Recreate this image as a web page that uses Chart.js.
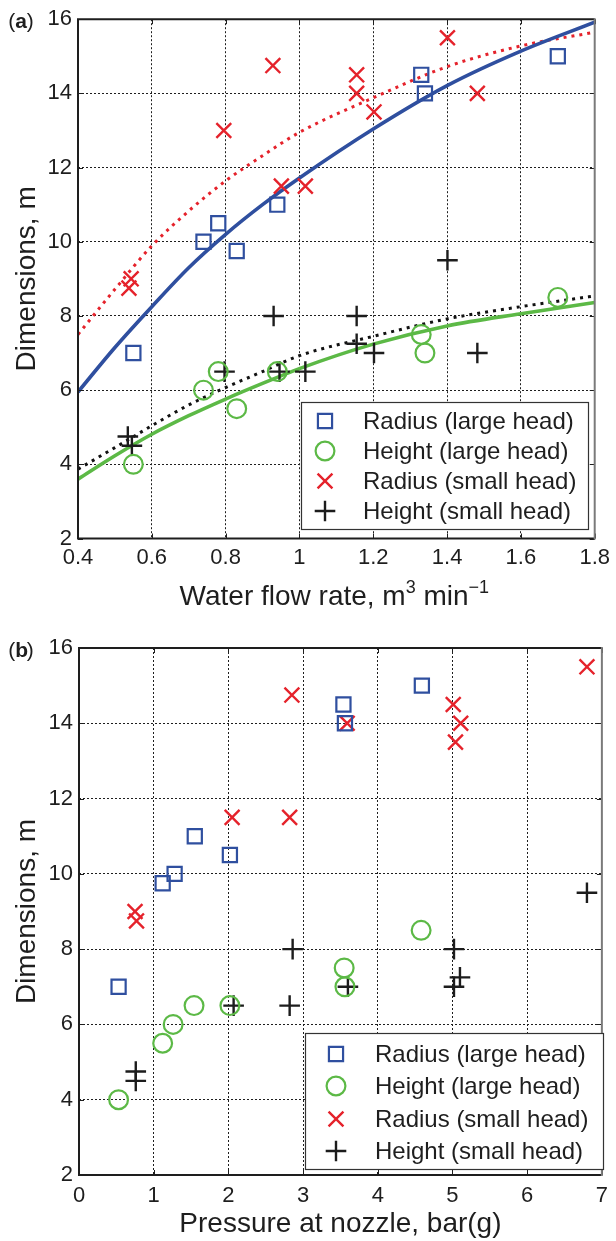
<!DOCTYPE html>
<html>
<head>
<meta charset="utf-8">
<script src="https://cdn.jsdelivr.net/npm/chart.js@4.4.1/dist/chart.umd.min.js"></script>
<style>
  html, body { margin: 0; padding: 0; background: #fff; }
  #wrap { position: relative; width: 616px; height: 1241px; }
  canvas { position: absolute; left: 0; }
  #chart-a { top: 0; }
  #chart-b { top: 620px; }
</style>
</head>
<body>
<div id="wrap">
  <canvas id="chart-a" width="616" height="615"></canvas>
  <canvas id="chart-b" width="616" height="621"></canvas>
</div>
<script>
// Spray dimensions vs flow rate (a) and nozzle pressure (b)

const seriesNames = ['Radius (large head)', 'Height (large head)', 'Radius (small head)', 'Height (small head)'];
const seriesColors = ['#2f4f9f', '#5cb946', '#e5222b', '#1c1c1c'];
const seriesMarkers = ['rect', 'circle', 'crossRot', 'cross'];

// panel (a) - water flow rate, m3/min
const flowRadiusLarge = [0.55, 0.74, 0.78, 0.83, 0.94, 1.33, 1.34, 1.70];
const radiusLargeA    = [7, 10, 10.5, 9.75, 11, 14.5, 14, 15];
const flowHeightLarge = [0.55, 0.74, 0.78, 0.83, 0.94, 1.33, 1.34, 1.70];
const heightLargeA    = [4, 6, 6.5, 5.5, 6.5, 7.5, 7, 8.5];
const flowRadiusSmall = [0.538, 0.544, 0.795, 0.928, 0.951, 1.016, 1.155, 1.155, 1.202, 1.401, 1.482];
const radiusSmallA    = [8.75, 9, 13, 14.75, 11.5, 11.5, 14.5, 14, 13.5, 15.5, 14];
const flowHeightSmall = [0.535, 0.546, 0.797, 0.930, 0.946, 1.016, 1.155, 1.155, 1.202, 1.401, 1.482];
const heightSmallA    = [4.75, 4.5, 6.5, 8, 6.5, 6.5, 8, 7.25, 7, 9.5, 7];

// fitted curves in (a)
const fitFlow         = [0.4, 0.5, 0.6, 0.7, 0.8, 0.9, 1.0, 1.2, 1.4, 1.6, 1.8];
const fitRadiusLarge  = [5.95, 7.15, 8.25, 9.3, 10.2, 11.0, 11.72, 13.04, 14.21, 15.14, 15.92];
const fitRadiusSmall  = [7.5, 8.72, 9.89, 10.83, 11.64, 12.32, 12.95, 13.88, 14.72, 15.28, 15.65];
const fitHeightLarge  = [3.6, 4.23, 4.81, 5.31, 5.76, 6.18, 6.58, 7.24, 7.73, 8.06, 8.36];
const fitHeightSmall  = [3.87, 4.45, 5.04, 5.6, 6.07, 6.5, 6.93, 7.45, 7.92, 8.25, 8.54];

// panel (b) - pressure at nozzle, bar(g)
const barRadiusLarge  = [0.53, 1.12, 1.28, 1.55, 2.02, 3.54, 3.56, 4.59];
const radiusLargeB    = [7, 9.75, 10, 11, 10.5, 14.5, 14, 15];
const barHeightLarge  = [0.53, 1.12, 1.26, 1.54, 2.02, 3.55, 3.56, 4.58];
const heightLargeB    = [4, 5.5, 6, 6.5, 6.5, 7.5, 7, 8.5];
const barRadiusSmall  = [0.75, 0.77, 2.05, 2.82, 2.85, 3.59, 5.01, 5.04, 5.11, 6.8];
const radiusSmallB    = [9, 8.75, 11.5, 11.5, 14.75, 14, 14.5, 13.5, 14, 15.5];
const barHeightSmall  = [0.76, 0.76, 2.07, 2.82, 2.86, 3.60, 5.02, 5.02, 5.10, 6.8];
const heightSmallB    = [4.75, 4.5, 6.5, 6.5, 8, 7, 8, 7, 7.25, 9.5];

const FONT = '"Liberation Sans", Arial, Helvetica, sans-serif';
const INK = '#1e1e1e';
const markerRadius = [10, 9.4, 10.5, 10.3];
const markerWidth = [2.2, 2.2, 2.4, 2.4];

const xy = (xs, ys) => xs.map((x, i) => ({ x, y: ys[i] }));

function markerSets(groups) {
    return groups.map((g, i) => ({
        type: 'scatter',
        label: seriesNames[i],
        data: xy(g[0], g[1]),
        pointStyle: seriesMarkers[i],
        pointRadius: markerRadius[i],
        pointHoverRadius: markerRadius[i],
        pointBorderColor: seriesColors[i],
        borderColor: seriesColors[i],
        pointBackgroundColor: 'rgba(0,0,0,0)',
        backgroundColor: 'rgba(0,0,0,0)',
        pointBorderWidth: markerWidth[i],
        order: i
    }));
}

function fitSet(xs, ys, color, dotted) {
    return {
        type: 'line',
        data: xy(xs, ys),
        borderColor: color,
        borderWidth: dotted ? 3 : 3.6,
        borderDash: dotted ? [3, 5] : [],
        borderCapStyle: 'butt',
        pointRadius: 0,
        fill: false,
        cubicInterpolationMode: 'monotone',
        order: 10
    };
}

function drawMarker(ctx, style, x, y, r, color, lw) {
    ctx.save();
    ctx.strokeStyle = color;
    ctx.lineWidth = lw;
    ctx.beginPath();
    if (style === 'rect') {
        const s = r * Math.SQRT1_2;
        ctx.rect(x - s, y - s, 2 * s, 2 * s);
    } else if (style === 'circle') {
        ctx.arc(x, y, r, 0, Math.PI * 2);
    } else if (style === 'crossRot') {
        const s = r * Math.SQRT1_2;
        ctx.moveTo(x - s, y - s); ctx.lineTo(x + s, y + s);
        ctx.moveTo(x + s, y - s); ctx.lineTo(x - s, y + s);
    } else {
        ctx.moveTo(x - r, y); ctx.lineTo(x + r, y);
        ctx.moveTo(x, y - r); ctx.lineTo(x, y + r);
    }
    ctx.stroke();
    ctx.restore();
}

// text pieces with optional superscripts, centred on cx
function drawRich(ctx, parts, cx, baseline) {
    let total = 0;
    parts.forEach(p => { ctx.font = `${p.size}px ${FONT}`; p.w = ctx.measureText(p.t).width; total += p.w; });
    let x = cx - total / 2;
    ctx.textAlign = 'left';
    ctx.textBaseline = 'alphabetic';
    parts.forEach(p => {
        ctx.font = `${p.weight || 'normal'} ${p.size}px ${FONT}`;
        ctx.fillText(p.t, x, baseline - (p.rise || 0));
        x += p.w;
    });
}

// MATLAB-ish frame: box, inward ticks, legend, tag and axis titles
function matlabFrame(cfg) {
    return {
        id: 'matlabFrame',
        afterDraw(chart) {
            const { ctx, chartArea: a, scales } = chart;
            ctx.save();
            ctx.lineWidth = 1;
            ctx.strokeStyle = INK;
            ctx.beginPath();
            scales.x.ticks.forEach(t => {
                const p = Math.round(scales.x.getPixelForValue(t.value)) + 0.5;
                ctx.moveTo(p, a.bottom); ctx.lineTo(p, a.bottom - 5);
                ctx.moveTo(p, a.top); ctx.lineTo(p, a.top + 5);
            });
            scales.y.ticks.forEach(t => {
                const p = Math.round(scales.y.getPixelForValue(t.value)) + 0.5;
                ctx.moveTo(a.left, p); ctx.lineTo(a.left + 5, p);
                ctx.moveTo(a.right, p); ctx.lineTo(a.right - 5, p);
            });
            ctx.stroke();

            // axes box
            ctx.lineWidth = 2;
            ctx.strokeStyle = INK;
            ctx.beginPath();
            ctx.moveTo(a.right, a.top); ctx.lineTo(a.left, a.top);
            ctx.lineTo(a.left, a.bottom); ctx.lineTo(a.right, a.bottom);
            ctx.stroke();
            ctx.strokeStyle = '#7a7a7a';
            ctx.beginPath();
            ctx.moveTo(a.right, a.top - 1); ctx.lineTo(a.right, a.bottom + 1);
            ctx.stroke();

            // legend
            const L = cfg.legend;
            ctx.fillStyle = '#fff';
            ctx.fillRect(L.x, L.y, L.w, L.h);
            ctx.lineWidth = 1.2;
            ctx.strokeStyle = '#333';
            ctx.strokeRect(L.x + 0.5, L.y + 0.5, L.w, L.h);
            ctx.fillStyle = INK;
            ctx.font = `${L.size}px ${FONT}`;
            ctx.textAlign = 'left';
            ctx.textBaseline = 'middle';
            seriesNames.forEach((name, i) => {
                const y = L.rows[i];
                drawMarker(ctx, seriesMarkers[i], L.markerX, y, markerRadius[i], seriesColors[i], markerWidth[i]);
                ctx.fillText(name, L.textX, y + 1);
            });

            // panel tag
            ctx.fillStyle = INK;
            drawRich(ctx, [
                { t: '(', size: 21 },
                { t: cfg.tag, size: 21, weight: 'bold' },
                { t: ')', size: 21 }
            ], cfg.tagX, cfg.tagY);

            // x title
            drawRich(ctx, cfg.xTitle, (a.left + a.right) / 2 + cfg.xTitleShift, cfg.xTitleY);

            // y title
            ctx.save();
            ctx.translate(cfg.yTitleX, (a.top + a.bottom) / 2);
            ctx.rotate(-Math.PI / 2);
            ctx.font = `28px ${FONT}`;
            ctx.textAlign = 'center';
            ctx.textBaseline = 'alphabetic';
            ctx.fillText('Dimensions, m', 0, 0);
            ctx.restore();
            ctx.restore();
        }
    };
}

function axisOptions(xr, yWidth, xHeight, pad, xFmt, xPad) {
    const grid = { color: INK, lineWidth: 1, drawTicks: false };
    const ticks = { color: INK, font: { family: FONT, size: 22 } };
    return {
        responsive: false,
        animation: false,
        events: [],
        layout: { padding: pad },
        plugins: { legend: { display: false }, tooltip: { enabled: false } },
        scales: {
            x: {
                type: 'linear', min: xr[0], max: xr[1],
                ticks: { ...ticks, stepSize: xr[2], padding: xPad, maxRotation: 0, autoSkip: false, callback: xFmt },
                grid, border: { display: false, dash: [2, 2] },
                afterFit: s => { s.height = xHeight; }
            },
            y: {
                type: 'linear', min: 2, max: 16,
                ticks: { ...ticks, stepSize: 2, padding: 6 },
                grid, border: { display: false, dash: [2, 2] },
                afterFit: s => { s.width = yWidth; }
            }
        }
    };
}

// (a) water flow rate
new Chart(document.getElementById('chart-a'), {
    type: 'scatter',
    data: {
        datasets: [
            ...markerSets([
                [flowRadiusLarge, radiusLargeA],
                [flowHeightLarge, heightLargeA],
                [flowRadiusSmall, radiusSmallA],
                [flowHeightSmall, heightSmallA]
            ]),
            fitSet(fitFlow, fitRadiusLarge, seriesColors[0], false),
            fitSet(fitFlow, fitHeightLarge, seriesColors[1], false),
            fitSet(fitFlow, fitRadiusSmall, seriesColors[2], true),
            fitSet(fitFlow, fitHeightSmall, '#111', true)
        ]
    },
    options: axisOptions([0.4, 1.8, 0.2], 78, 76.5, { top: 18, right: 17, left: 0, bottom: 0 },
        v => String(Math.round(v * 10) / 10), 6),
    plugins: [matlabFrame({
        tag: 'a', tagX: 21, tagY: 28,
        xTitle: [
            { t: 'Water flow rate, m', size: 28 },
            { t: '3', size: 18, rise: 12 },
            { t: ' min', size: 28 },
            { t: '\u22121', size: 18, rise: 12 }
        ],
        xTitleShift: -2, xTitleY: 605, yTitleX: 35,
        legend: { x: 301, y: 402, w: 287, h: 127, markerX: 325, textX: 363, rows: [421, 451, 481, 511], size: 24 }
    })]
});

// (b) pressure at nozzle
new Chart(document.getElementById('chart-b'), {
    type: 'scatter',
    data: {
        datasets: markerSets([
            [barRadiusLarge, radiusLargeB],
            [barHeightLarge, heightLargeB],
            [barRadiusSmall, radiusSmallB],
            [barHeightSmall, heightSmallB]
        ])
    },
    options: axisOptions([0, 7, 1], 79, 66, { top: 28, right: 10, left: 0, bottom: 0 },
        v => String(v), 8),
    plugins: [matlabFrame({
        tag: 'b', tagX: 21, tagY: 37,
        xTitle: [{ t: 'Pressure at nozzle, bar(g)', size: 28 }],
        xTitleShift: 0, xTitleY: 612, yTitleX: 35,
        legend: { x: 305, y: 413, w: 298, h: 136, markerX: 336, textX: 375, rows: [434, 466, 499, 531], size: 24 }
    })]
});
</script>
</body>
</html>
